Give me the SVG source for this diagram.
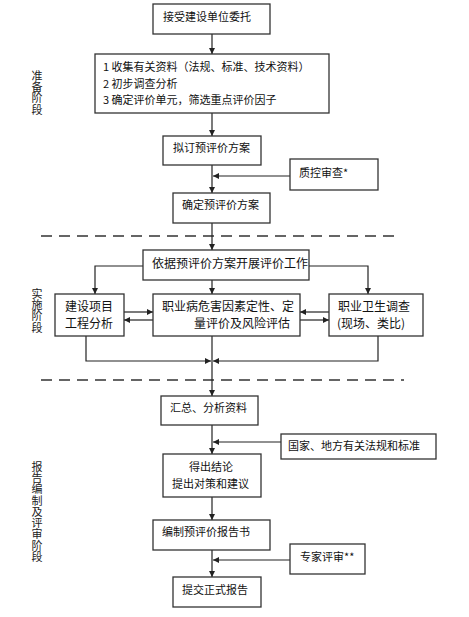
<svg xmlns="http://www.w3.org/2000/svg" width="469" height="617" viewBox="0 0 469 617">
<defs>
<marker id="ah" viewBox="0 0 10 10" refX="10" refY="5" markerWidth="6" markerHeight="6" orient="auto" markerUnits="userSpaceOnUse">
<path d="M0,0 L10,5 L0,10 z" fill="#222"/>
</marker>
<style>
.box{fill:#fff;stroke:#333;stroke-width:1.3}
.t{font-family:"Noto Sans CJK SC","Liberation Sans",sans-serif;font-size:11px;fill:#111}
.t12{font-size:12px}
.lbl{font-family:"Noto Sans CJK SC","Liberation Sans",sans-serif;font-size:11px;fill:#222;writing-mode:vertical-rl;letter-spacing:0.3px}
.c{fill:none;stroke:#222;stroke-width:1.2}
.a{marker-end:url(#ah)}
.d{fill:none;stroke:#333;stroke-width:1.3;stroke-dasharray:11 7}
</style>
</defs>
<rect width="469" height="617" fill="#fff"/>

<g id="stage-labels">
<text class="lbl" x="37" y="70">准备阶段</text>
<text class="lbl" x="37" y="288">实施阶段</text>
<text class="lbl" x="37" y="461">报告编制及评审阶段</text>
</g>

<g id="dividers">
<line class="d" x1="41" y1="236" x2="398" y2="236"/>
<line class="d" x1="41" y1="380" x2="404" y2="380"/>
</g>

<g id="connectors">
<line class="c a" x1="212" y1="34" x2="212" y2="54"/>
<line class="c a" x1="212" y1="113" x2="212" y2="136"/>
<line class="c a" x1="212" y1="165" x2="212" y2="193"/>
<line class="c a" x1="290" y1="176" x2="213" y2="176"/>
<line class="c a" x1="212" y1="223" x2="212" y2="250"/>
<polyline class="c a" points="143,266 95,266 95,294"/>
<polyline class="c a" points="309,266 368,266 368,294"/>
<line class="c a" x1="212" y1="280" x2="212" y2="294"/>
<line class="c a" x1="124" y1="312" x2="153" y2="312"/>
<line class="c a" x1="153" y1="320" x2="124" y2="320"/>
<line class="c a" x1="329" y1="312" x2="300" y2="312"/>
<line class="c a" x1="300" y1="320" x2="329" y2="320"/>
<polyline class="c a" points="86,336 86,361 211,361"/>
<polyline class="c a" points="378,336 378,361 213,361"/>
<line class="c a" x1="212" y1="336" x2="212" y2="396"/>
<line class="c a" x1="212" y1="425" x2="212" y2="454"/>
<line class="c a" x1="281" y1="442" x2="213" y2="442"/>
<line class="c a" x1="212" y1="497" x2="212" y2="520"/>
<line class="c a" x1="212" y1="550" x2="212" y2="577"/>
<line class="c a" x1="290" y1="560" x2="213" y2="560"/>
</g>

<g id="n1"><rect class="box" x="153" y="4" width="117" height="30"/><text class="t" x="163" y="21">接受建设单位委托</text></g>
<g id="n2"><rect class="box" x="95" y="54" width="234" height="59"/>
<text class="t" x="103" y="71">1 收集有关资料（法规、标准、技术资料）</text>
<text class="t" x="103" y="87.5">2 初步调查分析</text>
<text class="t" x="103" y="104">3 确定评价单元，筛选重点评价因子</text></g>
<g id="n3"><rect class="box" x="163" y="136" width="98" height="29"/><text class="t" x="173" y="152">拟订预评价方案</text></g>
<g id="n4"><rect class="box" x="290" y="159" width="88" height="31"/><text class="t" x="299" y="177">质控审查*</text></g>
<g id="n5"><rect class="box" x="173" y="193" width="97" height="30"/><text class="t" x="182" y="209">确定预评价方案</text></g>
<g id="n6"><rect class="box" x="143" y="250" width="166" height="30"/><text class="t t12" x="152" y="267.5">依据预评价方案开展评价工作</text></g>
<g id="n7"><rect class="box" x="55" y="294" width="69" height="42"/><text class="t t12" x="65" y="311">建设项目</text><text class="t t12" x="65" y="327.5">工程分析</text></g>
<g id="n8"><rect class="box" x="153" y="294" width="147" height="42"/><text class="t t12" x="162" y="311">职业病危害因素定性、定</text><text class="t t12" x="194" y="327.5">量评价及风险评估</text></g>
<g id="n9"><rect class="box" x="329" y="294" width="94" height="42"/><text class="t t12" x="338" y="311">职业卫生调查</text><text class="t t12" x="337" y="327.5">(现场、类比)</text></g>
<g id="n10"><rect class="box" x="161" y="396" width="97" height="29"/><text class="t" x="170" y="412">汇总、分析资料</text></g>
<g id="n11"><rect class="box" x="281" y="434" width="155" height="25"/><text class="t" x="288" y="450">国家、地方有关法规和标准</text></g>
<g id="n12"><rect class="box" x="163" y="454" width="98" height="43"/><text class="t" x="189" y="471">得出结论</text><text class="t" x="172" y="487.5">提出对策和建议</text></g>
<g id="n13"><rect class="box" x="153" y="520" width="117" height="30"/><text class="t" x="162" y="536">编制预评价报告书</text></g>
<g id="n14"><rect class="box" x="290" y="544" width="75" height="30"/><text class="t" x="300" y="561">专家评审**</text></g>
<g id="n15"><rect class="box" x="173" y="577" width="88" height="30"/><text class="t" x="182" y="594">提交正式报告</text></g>
</svg>
